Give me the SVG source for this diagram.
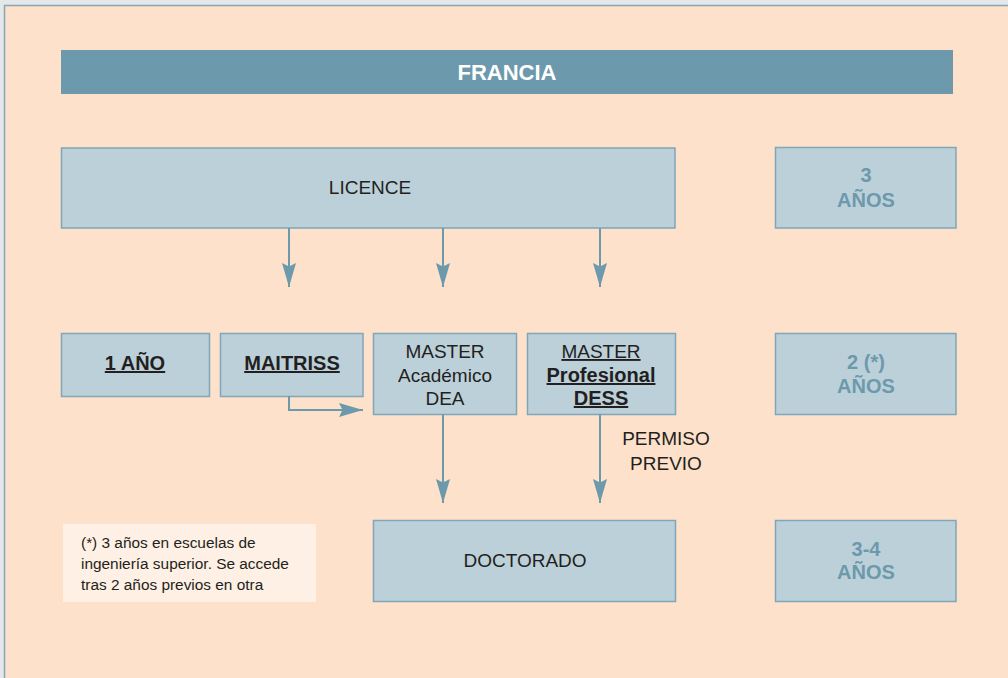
<svg xmlns="http://www.w3.org/2000/svg" width="1008" height="678" viewBox="0 0 1008 678">
<style>
.box{fill:#bcd0da;stroke:#7fa6b9;stroke-width:1.5}
.t{font-family:"Liberation Sans",Arial,sans-serif;font-size:19px;fill:#231f20;text-anchor:middle}
.m{font-size:19px}
.b{font-weight:bold;font-size:20px}
.u{text-decoration:underline}
.yr{font-family:"Liberation Sans",Arial,sans-serif;font-size:20px;font-weight:bold;fill:#6c99ab;text-anchor:middle}
.ln{fill:none;stroke:#6c99ab;stroke-width:2}
.note{font-family:"Liberation Sans",Arial,sans-serif;font-size:15.4px;fill:#231f20}
</style>
<defs>
<marker id="ah" markerUnits="userSpaceOnUse" markerWidth="26" markerHeight="16" refX="24" refY="7.5" orient="auto" viewBox="0 0 26 15">
<path d="M24,7.5 L0,0.5 L3.5,7.5 L0,14.5 Z" fill="#6c99ab"/>
</marker>
</defs>
<rect x="0" y="0" width="1008" height="678" fill="#e4e8ea"/>
<rect x="4.5" y="5.5" width="1010" height="680" fill="#fde1ca" stroke="#86a8b8" stroke-width="1.5"/>
<g id="title">
<rect x="61" y="50" width="892" height="44" fill="#6c99ab"/>
<text x="507" y="80" class="t b" style="fill:#ffffff;font-size:22px">FRANCIA</text>
</g>
<g id="licence">
<rect class="box" x="61.5" y="148" width="613.5" height="80"/>
<text x="370" y="194" class="t">LICENCE</text>
</g>
<g id="anos3">
<rect class="box" x="775.5" y="147.5" width="180.5" height="80.5"/>
<text x="866" y="182" class="yr">3</text>
<text x="866" y="207" class="yr">AÑOS</text>
</g>
<g id="uno">
<rect class="box" x="61.5" y="333.5" width="148" height="63"/>
<text x="135" y="370" class="t b u">1 AÑO</text>
</g>
<g id="maitriss">
<rect class="box" x="220.5" y="333.5" width="142.5" height="63"/>
<text x="292" y="370" class="t b u">MAITRISS</text>
</g>
<g id="academico">
<rect class="box" x="373.5" y="333.5" width="143" height="81"/>
<text x="445" y="358" class="t m">MASTER</text>
<text x="445" y="382" class="t m">Académico</text>
<text x="445" y="405" class="t m">DEA</text>
</g>
<g id="profesional">
<rect class="box" x="527.5" y="333.5" width="148" height="81"/>
<text x="601" y="358" class="t m u">MASTER</text>
<text x="601" y="382" class="t b u">Profesional</text>
<text x="601" y="405" class="t b u">DESS</text>
</g>
<g id="anos2">
<rect class="box" x="775.5" y="333.5" width="180.5" height="81"/>
<text x="866" y="369" class="yr">2 (*)</text>
<text x="866" y="393" class="yr">AÑOS</text>
</g>
<g id="permiso">
<text x="666" y="445" class="t">PERMISO</text>
<text x="666" y="470" class="t">PREVIO</text>
</g>
<g id="nota">
<rect x="63" y="524" width="253" height="78" fill="#fef0e4"/>
<text x="81" y="548" class="note">(*) 3 años en escuelas de</text>
<text x="81" y="569" class="note">ingeniería superior. Se accede</text>
<text x="81" y="590" class="note">tras 2 años previos en otra</text>
</g>
<g id="doctorado">
<rect class="box" x="373.5" y="520.5" width="302" height="81"/>
<text x="525" y="567" class="t">DOCTORADO</text>
</g>
<g id="anos34">
<rect class="box" x="775.5" y="520.5" width="180.5" height="81"/>
<text x="866" y="556" class="yr">3-4</text>
<text x="866" y="579" class="yr">AÑOS</text>
</g>
<g id="connectors">
<path class="ln" d="M289,228 L289,287" marker-end="url(#ah)"/>
<path class="ln" d="M443,228 L443,287" marker-end="url(#ah)"/>
<path class="ln" d="M600,228 L600,287" marker-end="url(#ah)"/>
<path class="ln" d="M289,396 L289,410 L363,410" marker-end="url(#ah)"/>
<path class="ln" d="M443,414 L443,503" marker-end="url(#ah)"/>
<path class="ln" d="M600,414 L600,503" marker-end="url(#ah)"/>
</g>
</svg>
